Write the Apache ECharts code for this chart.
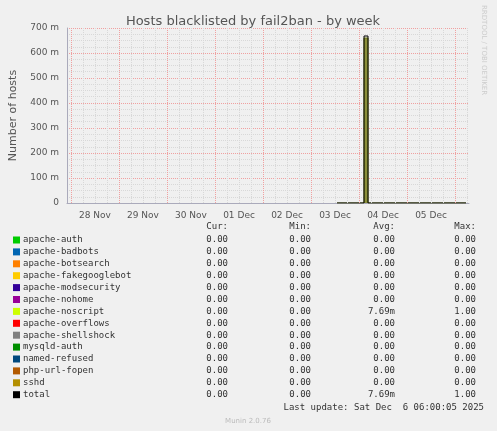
<!DOCTYPE html><html><head><meta charset="utf-8">
<script src="https://cdn.jsdelivr.net/npm/echarts@6/dist/echarts.min.js"></script>
<style>html,body{margin:0;background:#f0f0f0}#c{width:497px;height:431px}</style></head><body><div id="c"></div>
<script>
// hours since 27 Nov 22:00
const dayLabels=['28 Nov','29 Nov','30 Nov','01 Dec','02 Dec','03 Dec','04 Dec','05 Dec'];
const totalData=[[135,0],[148.5,0],[148.5,0.668],[150.5,0.668],[150.5,0],[199.5,0]];
const noscriptData=[[135,0],[148.5,0],[148.5,0.66],[150.5,0.66],[150.5,0],[199.5,0]];
const names=['apache-auth','apache-badbots','apache-botsearch','apache-fakegooglebot','apache-modsecurity','apache-nohome','apache-noscript','apache-overflows','apache-shellshock','mysqld-auth','named-refused','php-url-fopen','sshd','total'];
const colors=['#00cc00','#0066b3','#ff8000','#ffcc00','#330099','#990099','#ccff00','#ff0000','#808080','#008f00','#00487d','#b35a00','#b38f00','#000000'];
const curV=['0.00','0.00','0.00','0.00','0.00','0.00','0.00','0.00','0.00','0.00','0.00','0.00','0.00','0.00'];
const minV=['0.00','0.00','0.00','0.00','0.00','0.00','0.00','0.00','0.00','0.00','0.00','0.00','0.00','0.00'];
const avgV=['0.00','0.00','0.00','0.00','0.00','0.00','7.69m','0.00','0.00','0.00','0.00','0.00','0.00','7.69m'];
const maxV=['0.00','0.00','0.00','0.00','0.00','0.00','1.00','0.00','0.00','0.00','0.00','0.00','0.00','1.00'];
const mono='DejaVu Sans Mono', sans='DejaVu Sans';
const g=[];
const txt=(x,y,t,o)=>g.push(Object.assign({type:'text',x,y,style:Object.assign({text:t,font:'9px '+mono,fill:'#333',textVerticalAlign:'middle'},o||{})}));
txt(228,227,'Cur:',{textAlign:'right'});txt(311,227,'Min:',{textAlign:'right'});txt(395,227,'Avg:',{textAlign:'right'});txt(476,227,'Max:',{textAlign:'right'});
names.forEach((n,i)=>{const y=240+i*11.9;
 g.push({type:'rect',shape:{x:13,y:y-3.5,width:7,height:7},style:{fill:colors[i]}});
 txt(23,y,n);txt(228,y,curV[i],{textAlign:'right'});txt(311,y,minV[i],{textAlign:'right'});txt(395,y,avgV[i],{textAlign:'right'});txt(476,y,maxV[i],{textAlign:'right'});});
txt(484,408,'Last update: Sat Dec  6 06:00:05 2025',{textAlign:'right'});
g.push({type:'text',x:248,y:421,style:{text:'Munin 2.0.76',font:'7px '+sans,fill:'#bbb',textAlign:'center',textVerticalAlign:'middle'}});
g.push({type:'text',x:487,y:5,rotation:-Math.PI/2,style:{text:'RRDTOOL / TOBI OETIKER',font:'7px '+sans,fill:'#ccc'}});
const minors=[],majors=[];
for(let h=2;h<201;h+=6){((h-2)%24===0?majors:minors).push({xAxis:h});}
const ch=echarts.init(document.getElementById('c'));
ch.setOption({animation:false,backgroundColor:'#f0f0f0',
title:{text:'Hosts blacklisted by fail2ban - by week',left:248,top:10,textAlign:'center',textStyle:{fontFamily:sans,fontSize:13,fontWeight:'normal',color:'#555'}},
grid:{left:67,right:28,top:28,bottom:228},
xAxis:{type:'value',min:0,max:201,interval:2,
 axisLine:{lineStyle:{color:'#aab'}},axisTick:{show:false},
 axisLabel:{fontFamily:sans,fontSize:9,color:'#555',
  formatter:v=>((v-14)%24===0&&v>=14)?(dayLabels[(v-14)/24]||''):''},
 splitLine:{show:false}},
yAxis:{type:'value',min:0,max:0.7,interval:0.1,name:'Number of hosts',nameLocation:'middle',nameGap:48,
 nameTextStyle:{fontFamily:sans,fontSize:11,color:'#555'},
 axisLine:{show:true,lineStyle:{color:'#aab'}},axisTick:{show:false},
 axisLabel:{fontFamily:sans,fontSize:9,color:'#555',formatter:v=>v===0?'0':Math.round(v*1000)+' m'},
 splitLine:{lineStyle:{color:'#f0a0a0',type:'dotted'}},
 minorTick:{show:false,splitNumber:4},minorSplitLine:{show:true,lineStyle:{color:'#d8d8d8',type:'dotted'}}},
series:[
 {type:'line',data:[[0,0],[201,0]],symbol:'none',silent:true,lineStyle:{width:0},
  markLine:{symbol:'none',silent:true,label:{show:false},lineStyle:{color:'#d8d8d8',type:'dotted',width:1},data:minors}},
 {type:'line',data:[[0,0],[201,0]],symbol:'none',silent:true,lineStyle:{width:0},
  markLine:{symbol:'none',silent:true,label:{show:false},lineStyle:{color:'#f0a0a0',type:'dotted',width:1},data:majors}},
 {type:'line',data:noscriptData,symbol:'none',lineStyle:{width:1,color:'#6b7a1a'},areaStyle:{color:'#8a8f3a',opacity:1}},
 {type:'line',data:totalData,symbol:'none',lineStyle:{width:1,color:'#000'}}
],
graphic:g});
</script></body></html>
